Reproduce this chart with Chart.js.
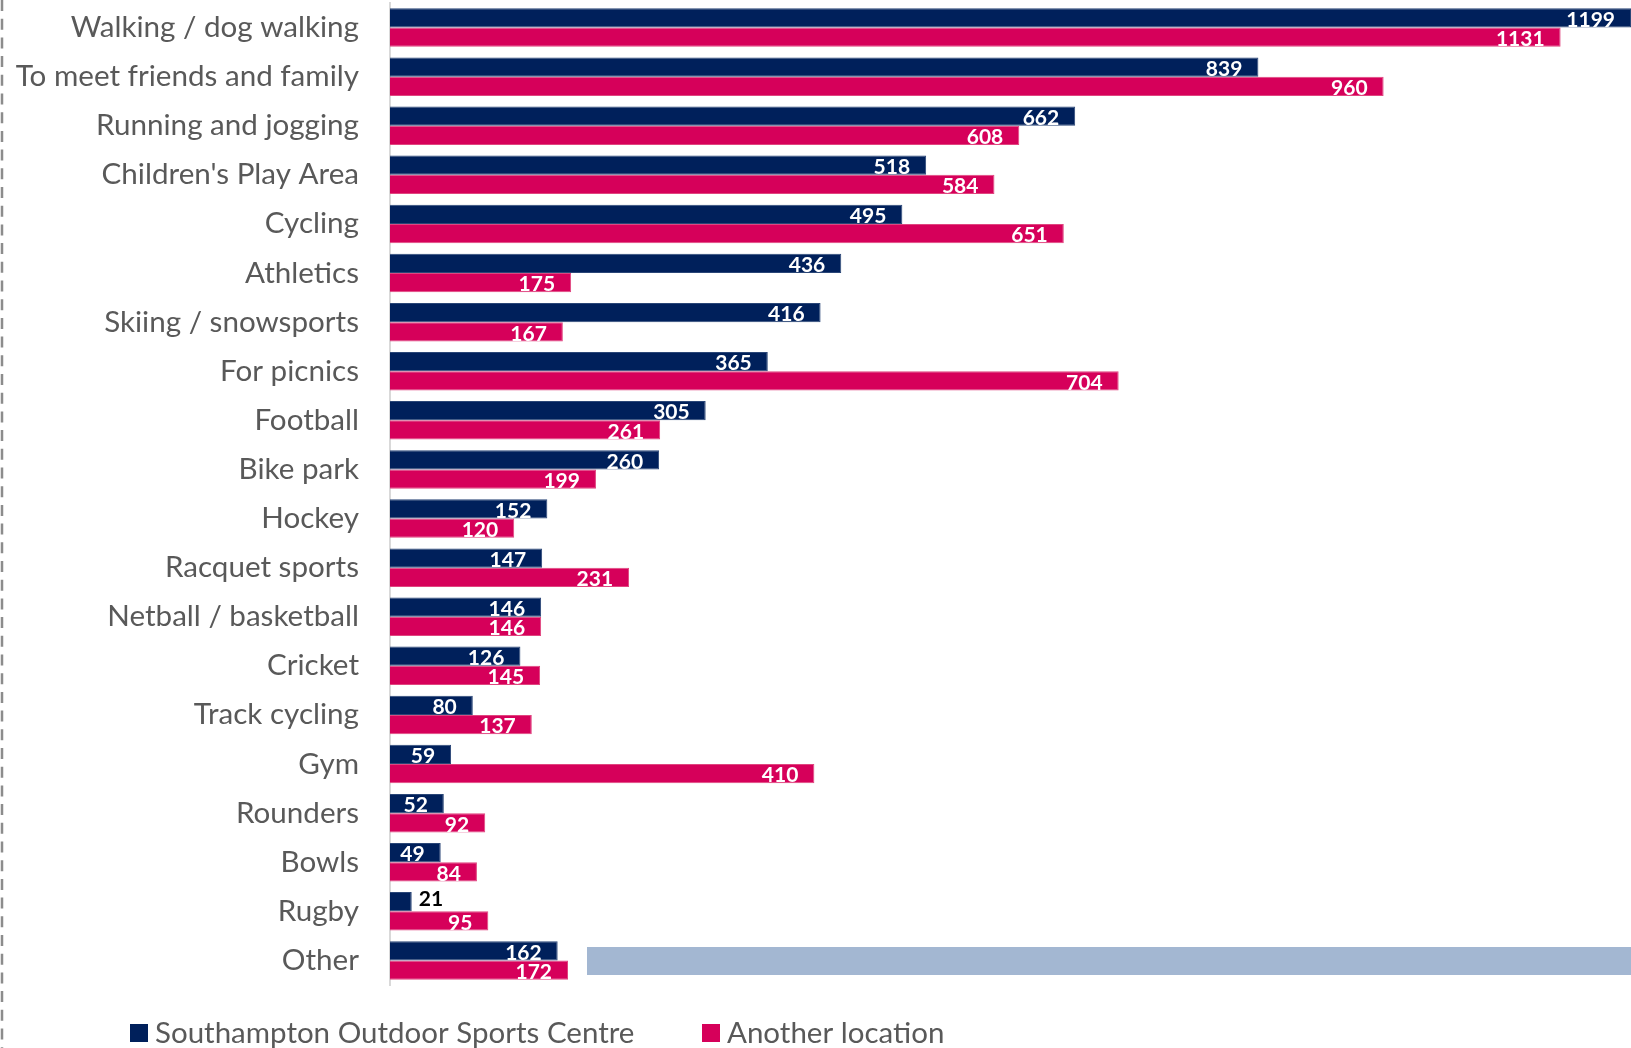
<!DOCTYPE html>
<html>
<head>
<meta charset="utf-8">
<script src="https://cdn.jsdelivr.net/npm/chart.js@4/dist/chart.umd.min.js"></script>
<style>
  html, body { margin: 0; padding: 0; background: #fff; }
  #wrap { width: 1631px; height: 1048px; position: relative; }
</style>
</head>
<body>
<div id="wrap"><canvas id="c"></canvas></div>
<script>
const categories = [
  "Walking / dog walking", "To meet friends and family", "Running and jogging",
  "Children's Play Area", "Cycling", "Athletics", "Skiing / snowsports",
  "For picnics", "Football", "Bike park", "Hockey", "Racquet sports",
  "Netball / basketball", "Cricket", "Track cycling", "Gym", "Rounders",
  "Bowls", "Rugby", "Other",
];
const sosc = [1199, 839, 662, 518, 495, 436, 416, 365, 305, 260, 152, 147, 146, 126, 80, 59, 52, 49, 21, 162];
const another = [1131, 960, 608, 584, 651, 175, 167, 704, 261, 199, 120, 231, 146, 145, 137, 410, 92, 84, 95, 172];
const seriesNames = ["Southampton Outdoor Sports Centre", "Another location"];

const NAVY = "#00205B";
const PINK = "#D6005A";
const GREY = "#595959";
const FONT = "Lato, 'Open Sans', sans-serif";

// value labels at the inside end of each bar, outside (black) if it won't fit
const barLabels = {
  id: "barLabels",
  afterDatasetsDraw(chart) {
    const { ctx } = chart;
    ctx.save();
    ctx.font = `bold 21px ${FONT}`;
    ctx.textBaseline = "middle";
    chart.data.datasets.forEach((ds, di) => {
      chart.getDatasetMeta(di).data.forEach((bar, i) => {
        const txt = String(ds.data[i]);
        const w = ctx.measureText(txt).width;
        if (bar.x - bar.base > w + 20) {
          ctx.fillStyle = "#fff";
          ctx.textAlign = "right";
          ctx.fillText(txt, bar.x - 16, bar.y + 2);
        } else {
          ctx.fillStyle = "#000";
          ctx.textAlign = "left";
          ctx.fillText(txt, bar.x + 7, bar.y - 2);
        }
      });
    });
    ctx.restore();
  },
};

// dashed frame edge, the pale blue strip and the legend
const extras = {
  id: "extras",
  afterDraw(chart) {
    const { ctx, chartArea } = chart;
    ctx.save();
    ctx.strokeStyle = "#8C8C8C";
    ctx.lineWidth = 2.5;
    ctx.setLineDash([11, 7.7]);
    ctx.beginPath();
    ctx.moveTo(2, 0);
    ctx.lineTo(2, chart.height);
    ctx.stroke();
    ctx.setLineDash([]);

    ctx.fillStyle = "#A3B7D2";
    ctx.fillRect(587, 947, chartArea.right - 587, 28);

    const items = [
      { x: 130, color: NAVY, text: seriesNames[0] },
      { x: 702, color: PINK, text: seriesNames[1] },
    ];
    ctx.font = `29.5px ${FONT}`;
    ctx.textBaseline = "middle";
    ctx.textAlign = "left";
    items.forEach(({ x, color, text }) => {
      ctx.fillStyle = color;
      ctx.fillRect(x, 1024, 18, 18);
      ctx.fillStyle = GREY;
      ctx.fillText(text, x + 25, 1033);
    });
    ctx.restore();
  },
};

new Chart(document.getElementById("c"), {
  type: "bar",
  data: {
    labels: categories,
    datasets: [
      { label: seriesNames[0], data: sosc, backgroundColor: NAVY, borderColor: "#2A4677", borderWidth: 1 },
      { label: seriesNames[1], data: another, backgroundColor: PINK, borderColor: "#E0457F", borderWidth: 1 },
    ],
  },
  options: {
    indexAxis: "y",
    animation: false,
    responsive: true,
    maintainAspectRatio: false,
    layout: { padding: { top: 3, bottom: 63, left: 0, right: 0 } },
    datasets: { bar: { categoryPercentage: 0.785, barPercentage: 1 } },
    plugins: { legend: { display: false }, tooltip: { enabled: false } },
    scales: {
      x: { display: false, min: 0, max: 1199 },
      y: {
        grid: { display: false, drawTicks: false },
        border: { color: "#D9D9D9", width: 2 },
        ticks: { color: GREY, font: { family: FONT, size: 29.6 }, padding: 31 },
        afterFit: (scale) => {
          // fixed axis width, and don't let tick padding push the plot down
          scale.width = 390;
          scale.paddingTop = 0;
          scale.paddingBottom = 0;
        },
      },
    },
  },
  plugins: [barLabels, extras],
});
</script>
</body>
</html>
